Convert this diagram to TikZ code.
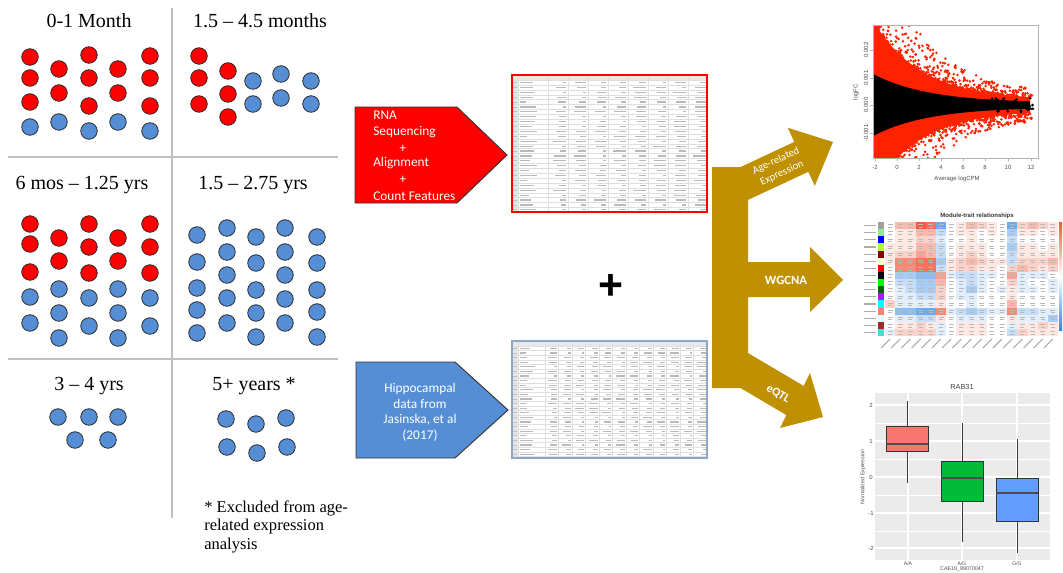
\documentclass[tikz,border=0pt]{standalone}
\usepackage{fontspec}
\setmainfont{Liberation Serif}
\newfontfamily\calfont{Carlito}
\newfontfamily\lsans{Liberation Sans}
\definecolor{dotred}{HTML}{FF0000}
\definecolor{dotblue}{HTML}{558ED5}
\definecolor{goldc}{HTML}{BF9000}
\definecolor{gridgray}{HTML}{BFBFBF}
\definecolor{sheetblue}{HTML}{8FA6C4}
\definecolor{vred}{HTML}{FF2200}
\definecolor{hmred}{HTML}{F0583C}
\definecolor{hmblue}{HTML}{2E86E8}
\definecolor{ggred}{HTML}{F8766D}
\definecolor{gggreen}{HTML}{00BA38}
\definecolor{ggblue}{HTML}{619CFF}
\definecolor{ggpanel}{HTML}{EBEBEB}
\definecolor{m1}{HTML}{A0A0A0}
\definecolor{m2}{HTML}{90EE90}
\definecolor{m3}{HTML}{0000FF}
\definecolor{m4}{HTML}{ADFF2F}
\definecolor{m5}{HTML}{8B0000}
\definecolor{m6}{HTML}{FFFFC8}
\definecolor{m7}{HTML}{FF0000}
\definecolor{m8}{HTML}{000000}
\definecolor{m9}{HTML}{00FF00}
\definecolor{m10}{HTML}{006400}
\definecolor{m11}{HTML}{A020F0}
\definecolor{m12}{HTML}{00FFFF}
\definecolor{m13}{HTML}{FA8072}
\definecolor{m14}{HTML}{E0FFFF}
\definecolor{m15}{HTML}{A52A2A}
\definecolor{m16}{HTML}{40E0D0}
\tikzset{
 rdot/.style={fill=dotred,draw=black!85,line width=0.6pt},
 bdot/.style={fill=dotblue,draw=black!85,line width=0.6pt},
 divider/.style={draw=gridgray,line width=1.5pt},
 agetitle/.style={font=\fontsize{15}{18}\selectfont,inner sep=0pt,anchor=base},
 note/.style={font=\fontsize{12.4}{14}\selectfont,inner sep=0pt,anchor=base west},
 boxtxt/.style={font=\calfont\fontsize{10}{12}\selectfont,text=white,inner sep=0pt,anchor=base west},
 bluetxt/.style={font=\calfont\fontsize{10}{11.6}\selectfont,text=white,inner sep=0pt,anchor=base},
 goldtxt/.style={font=\calfont\fontsize{8}{9}\selectfont,text=white,inner sep=0pt,align=center},
 cellline/.style={draw=gray!25,line width=0.3pt},
 celltxt/.style={draw=gray!55,line width=0.9pt},
 tiny/.style={font=\lsans\fontsize{4.5}{5}\selectfont,text=gray!60!black,inner sep=0pt},
 whisk/.style={draw=gray!45!black,line width=0.7pt},
 bxp/.style={draw=gray!40!black,line width=0.6pt},
 medl/.style={draw=black!70,line width=1.3pt}
}
\begin{document}
\begin{tikzpicture}[x=0.75pt,y=-0.75pt]
\useasboundingbox (0,0) rectangle (1063,572);
\pgfmathsetseed{4242}
% ---------- left grid ----------
\draw[divider] (172,8) -- (172,518);
\draw[divider] (8,157) -- (338,157);
\draw[divider] (8,359) -- (338,359);
\node[agetitle] (t1) at (89,27) {0-1 Month};
\node[agetitle] (t2) at (260,27) {1.5 – 4.5 months};
\node[agetitle] (t3) at (82,189) {6 mos – 1.25 yrs};
\node[agetitle] (t4) at (253,189) {1.5 – 2.75 yrs};
\node[agetitle] (t5) at (89,390) {3 – 4 yrs};
\node[agetitle] (t6) at (254,390) {5+ years *};
\node[note] (n1) at (204,512) {* Excluded from age-};
\node[note] (n2) at (204,530) {related expression};
\node[note] (n3) at (204,549) {analysis};
% red dots
\foreach \a/\b in {30/57,30/78,30/102,59/69,59/93,89/55,89/78,89/106,118/69,118/93,150/56,150/78,150/106,
 199/56,199/78,199/104,228/71,228/94,228/117,
 30/224,30/244,30/272,59/238,59/261,89/224,89/247,89/273,118/238,118/261,150/224,150/247,150/273}
 \draw[rdot] (\a,\b) circle[radius=6.2pt];
% blue dots
\foreach \a/\b in {30/127,59/122,89/131,118/122,150/131,
 253/81,253/104,281/74,281/98,311/81,311/104,
 30/297,30/323,59/289,59/313,59/338,89/298,89/326,118/289,118/313,118/338,150/298,150/326,
 197/235,197/262,197/288,197/310,197/333,227/228,227/252,227/275,227/298,227/323,
 256/237,256/263,256/290,256/313,256/337,285/228,285/252,285/275,285/299,285/323,
 317/237,317/263,317/290,317/312,317/337,
 58/417,89/417,118/417,75/440,108/440,
 226/419,256/424,286/418,227/447,257/453,287/447}
 \draw[bdot] (\a,\b) circle[radius=6.2pt];
% ---------- red pentagon ----------
\draw[fill=dotred,draw=black!80,line width=0.7pt] (355,107) -- (457,107) -- (507,155) -- (457,203) -- (355,203) -- cycle;
\node[boxtxt] (b1) at (373,119) {RNA};
\node[boxtxt] (b2) at (373,135) {Sequencing};
\node[boxtxt,anchor=center] (b3) at (403,149) {+};
\node[boxtxt] (b4) at (373,166) {Alignment};
\node[boxtxt,anchor=center] (b5) at (403,180) {+};
\node[boxtxt] (b6) at (373,200) {Count Features};
% ---------- blue pentagon ----------
\draw[fill=dotblue,draw=black!80,line width=0.7pt] (356,362) -- (455,362) -- (508,410) -- (455,458) -- (356,458) -- cycle;
\node[bluetxt] (c1) at (420,392) {Hippocampal};
\node[bluetxt] (c2) at (420,408) {data from};
\node[bluetxt] (c3) at (420,423) {Jasinska, et al};
\node[bluetxt] (c4) at (420,439) {(2017)};
% ---------- spreadsheet 1 ----------
\fill[white] (512,75) rectangle (707,212);
\fill[gray!18] (512,75) rectangle (707,80);
\fill[gray!18] (512,75) rectangle (518,212);
\foreach \i in {0,...,26} \draw[cellline] (512,{80+\i*4.9}) -- (707,{80+\i*4.9});
\foreach \xx in {518,548,568,588,608,628,648,668,688} \draw[cellline] (\xx,75) -- (\xx,212);
\foreach \r in {0,...,26} {
  \pgfmathsetmacro\yy{82.45+\r*4.9}
  \draw[draw=gray!50,line width=0.6pt] (513,\yy) -- (517,\yy);
  \draw[celltxt] (520,\yy) -- ++({6+12*rnd},0);
  \foreach \xx in {568,588,...,708} { \draw[celltxt] (\xx-2,\yy) -- ++({-3-10*rnd},0); }
}
\draw[draw=red,line width=1.9pt] (512,75) rectangle (707,212);
% ---------- spreadsheet 2 ----------
\fill[white] (512,341) rectangle (707,458);
\fill[gray!18] (512,341) rectangle (707,346);
\fill[gray!18] (512,341) rectangle (518,458);
\foreach \i in {0,...,24} \draw[cellline] (512,{346+\i*4.6}) -- (707,{346+\i*4.6});
\foreach \xx in {518,545,558.5,572,585.5,599,612.5,626,639.5,653,666.5,680,693.5} \draw[cellline] (\xx,341) -- (\xx,458);
\foreach \r in {0,...,24} {
  \pgfmathsetmacro\yy{348.3+\r*4.6}
  \draw[draw=gray!50,line width=0.6pt] (513,\yy) -- (517,\yy);
  \draw[celltxt] (520,\yy) -- ++({5+11*rnd},0);
  \foreach \k in {1,...,12} { \draw[celltxt] ({545+13.5*\k-1.5},\yy) -- ++({-2-7*rnd},0); }
}
\draw[draw=sheetblue,line width=1.8pt] (512,341) rectangle (707,458);
% plus sign
\node[font=\lsans\bfseries\fontsize{32}{32}\selectfont,inner sep=0pt] (plus) at (611,287) {+};
% ---------- gold arrows ----------
\fill[goldc] (712,167) -- (740.6,167) -- (794.3,141.9) -- (787.8,127.8) -- (833,142) -- (814.8,185.8) -- (808.3,171.8)
 -- (748,199.9) -- (748,262) -- (810,262) -- (810,247) -- (843,280) -- (810,312) -- (810,297) -- (748,297)
 -- (748,353) -- (803.6,385.9) -- (810,373) -- (823,417) -- (780,428) -- (786.4,415.1) -- (740.5,388) -- (712,388) -- cycle;
\node[goldtxt,rotate=25] (g1a) at (776,161) {Age-related};
\node[goldtxt,rotate=25] (g1b) at (782,173) {Expression};
\node[goldtxt,font=\calfont\bfseries\fontsize{9.5}{11}\selectfont] (g2) at (786,280) {WGCNA};
\node[goldtxt,font=\calfont\bfseries\fontsize{9}{11}\selectfont,rotate=-30] (g3) at (778,394) {eQTL};
% ---------- volcano plot ----------
\begin{scope}
\clip (873,25) rectangle (1038,158);
\fill[vred] plot[domain=873:1030,samples=50] (\x,{105-(5+76*exp(-(\x-875)/48))}) -- plot[domain=1030:873,samples=50] (\x,{105+(5+76*exp(-(\x-875)/48))}) -- cycle;
\foreach \i in {1,...,750} {
  \pgfmathsetmacro\vpx{875+157*rnd^1.3}
  \pgfmathsetmacro\vhh{5+76*exp(-(\vpx-875)/48)}
  \pgfmathsetmacro\vpy{105+(2*random(0,1)-1)*\vhh*(1+1.1*rnd^2)}
  \fill[vred] (\vpx,\vpy) circle[radius=1.05pt];
}
\fill[black] plot[domain=873:1030,samples=50] (\x,{105-(2+28*exp(-(\x-875)/55))}) -- plot[domain=1030:873,samples=50] (\x,{105+(2+28*exp(-(\x-875)/55))}) -- cycle;
\foreach \i in {1,...,50} {
  \pgfmathsetmacro\vpx{990+43*rnd}
  \pgfmathsetmacro\vpy{105+(2*rnd-1)*7}
  \fill[black] (\vpx,\vpy) circle[radius=1.1pt];
}
\end{scope}
\draw[gray!60,line width=0.5pt] (873,25) rectangle (1038,158);
\foreach \v/\xx in {-2/875,0/897,2/919,4/941,6/963,8/985,10/1008,12/1031} {
  \draw[gray!60,line width=0.4pt] (\xx,158) -- (\xx,161);
  \node[tiny] (xl\xx) at (\xx,167) {\v};
}
\foreach \v/\yy in {0.002/50,0.001/78,0.000/105,-0.001/133} {
  \draw[gray!60,line width=0.4pt] (873,\yy) -- (870,\yy);
  \node[tiny,rotate=90] (yl\yy) at (866,\yy) {\v};
}
\node[tiny] (vxt) at (957,179) {Average logCPM};
\node[tiny,rotate=90] (vyt) at (856,92) {logFC};
% ---------- heatmap ----------
\node[tiny,font=\lsans\bfseries\fontsize{4.5}{5}\selectfont,text=black!80] (hmt) at (977,216) {Module-trait relationships};
\foreach \row [count=\r] in {
 {0,.3,.3,.7,.6,-.5,0,.1,.3,.2,.1,0,-.5,.2,.3,.2,.1},
 {0,.1,.1,.3,.3,-.2,0,.1,.1,0,.1,0,-.3,.1,.1,0,.1},
 {0,.1,.1,.2,.2,-.1,0,0,.1,0,0,0,-.2,0,0,0,0},
 {.1,.1,.1,.3,.3,-.2,0,.1,.1,.1,0,0,-.3,.1,.1,0,.1},
 {.1,.2,.2,.4,.3,-.2,0,.1,.2,.1,0,0,-.2,.1,.1,.1,.1},
 {.1,.5,.5,.6,.6,-.3,.1,.2,.3,.2,.1,.1,-.2,.2,.2,.2,.3},
 {0,.5,.5,.6,.6,-.2,.1,.2,.2,.1,.1,0,.2,.3,.2,.1,.2},
 {0,-.3,-.3,-.4,-.4,.4,-.1,-.2,-.2,-.1,-.1,0,.4,-.1,-.1,-.1,0},
 {0,-.2,-.2,-.3,-.3,.3,0,-.1,-.2,-.1,0,0,.2,-.1,0,0,-.1},
 {0,-.1,-.2,-.3,-.3,.2,0,-.1,-.3,-.1,0,-.1,.1,-.1,-.1,0,-.1},
 {0,-.1,-.1,-.2,-.2,.2,0,-.1,-.1,0,0,0,.1,0,0,0,0},
 {.2,-.1,-.1,-.1,-.1,.1,0,0,-.1,0,0,0,.3,0,0,0,0},
 {0,-.4,-.4,-.5,-.5,.5,-.1,-.2,-.3,-.2,-.1,-.1,.5,-.2,-.2,-.1,-.1},
 {0,-.1,-.1,-.2,-.2,.1,0,-.1,-.1,-.1,0,0,.1,-.1,-.1,-.1,-.3},
 {0,.1,.1,.2,.1,-.1,0,.1,.1,.1,0,0,-.1,.1,.1,.2,.1},
 {-.1,.2,.2,.2,.2,-.1,0,.1,.1,.1,0,0,-.2,.2,.1,.1,.1}} {
  \foreach \v [count=\c] in \row {
    \pgfmathtruncatemacro\pct{min(100,abs(\v)*140)}
    \ifdim \v pt<0pt \def\hc{hmblue}\else\def\hc{hmred}\fi
    \pgfmathsetmacro\cx{885+(\c-1)*10.18}
    \pgfmathsetmacro\cy{222+(\r-1)*7.125}
    \fill[\hc!\pct!white] (\cx,\cy) rectangle ++(10.18,7.125);
    \draw[gray!55,line width=0.35pt] (\cx+2.6,\cy+2.6) -- ++(5,0);
    \draw[gray!55,line width=0.35pt] (\cx+3.1,\cy+5) -- ++(4,0);
  }
  \fill[m\r] (878,{222+(\r-1)*7.125}) rectangle ++(6,7.125);
  \draw[gray!65,line width=0.9pt] (864,{225.6+(\r-1)*7.125}) -- (876,{225.6+(\r-1)*7.125});
}
\foreach \c in {1,...,17} \draw[gray!65,line width=0.8pt] ({890+(\c-1)*10.18},339) -- ++(-9,9);
\shade[top color=hmred,bottom color=hmblue,middle color=white] (1059,222) rectangle (1062,330);
% ---------- box plot ----------
\node[tiny,font=\lsans\fontsize{5.5}{6}\selectfont,text=black!75] (bpt) at (962,387) {RAB31};
\fill[ggpanel] (875,393) rectangle (1050,560);
\foreach \yy in {423,459,495,531} \draw[white,line width=0.35pt] (875,\yy) -- (1050,\yy);
\foreach \yy in {405,441,477,513,548} \draw[white,line width=0.8pt] (875,\yy) -- (1050,\yy);
\foreach \xx in {908,962,1017} \draw[white,line width=0.8pt] (\xx,393) -- (\xx,560);
\foreach \v/\yy in {2/405,1/441,0/477,-1/513,-2/548} \node[tiny] (bl\yy) at (871,\yy) {\v};
\node[tiny,rotate=90,font=\lsans\fontsize{4}{5}\selectfont] (byt) at (863,477) {Normalized Expression};
\draw[whisk] (907,401) -- (907,483);
\draw[bxp,fill=ggred] (886,426) rectangle (928,451);
\draw[medl] (886,444) -- (928,444);
\draw[whisk] (962,423) -- (962,542);
\draw[bxp,fill=gggreen] (941,461) rectangle (983,501);
\draw[medl] (941,478) -- (983,478);
\draw[whisk] (1017,439) -- (1017,553);
\draw[bxp,fill=ggblue] (996,478) rectangle (1038,521);
\draw[medl] (996,493) -- (1038,493);
\node[tiny,font=\lsans\fontsize{3.8}{4}\selectfont] (bx1) at (908,564) {A/A};
\node[tiny,font=\lsans\fontsize{3.8}{4}\selectfont] (bx2) at (962,564) {A/G};
\node[tiny,font=\lsans\fontsize{3.8}{4}\selectfont] (bx3) at (1017,564) {G/G};
\node[tiny,font=\lsans\fontsize{4}{4}\selectfont] (bxt) at (962,569.5) {CAE18\_89070047};
\end{tikzpicture}
\end{document}
